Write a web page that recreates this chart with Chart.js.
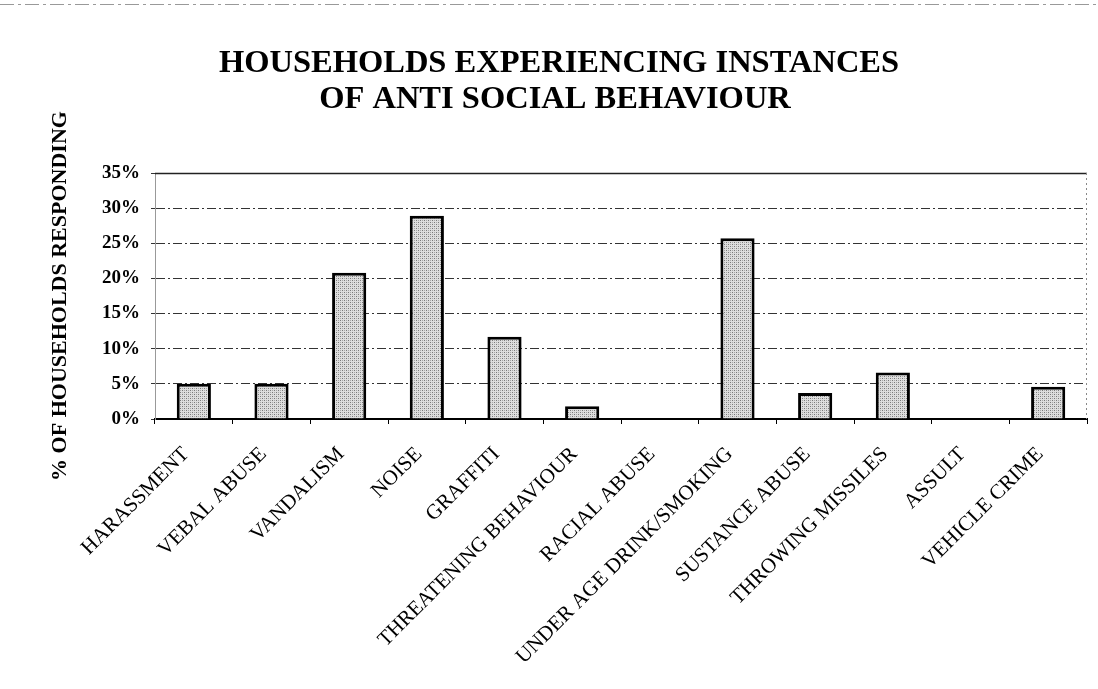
<!DOCTYPE html>
<html><head><meta charset="utf-8">
<script src="https://cdn.jsdelivr.net/npm/chart.js@4"></script>
<style>html,body{margin:0;padding:0;background:#fff}#wrap{width:1098px;height:689px;position:relative}</style>
</head><body><div id="wrap"><canvas id="c" width="1098" height="689"></canvas></div>
<script>
const categories = ['HARASSMENT','VEBAL ABUSE','VANDALISM','NOISE','GRAFFITI','THREATENING BEHAVIOUR','RACIAL ABUSE','UNDER AGE DRINK/SMOKING','SUSTANCE ABUSE','THROWING MISSILES','ASSULT','VEHICLE CRIME'];
const values = [5.0, 5.0, 20.8, 28.9, 11.7, 1.8, 0, 25.7, 3.7, 6.6, 0, 4.6];
const yTickValues = [0, 5, 10, 15, 20, 25, 30, 35];
const titleLines = ['HOUSEHOLDS EXPERIENCING INSTANCES', 'OF ANTI SOCIAL BEHAVIOUR'];
const yTitle = '% OF HOUSEHOLDS RESPONDING';

const SERIF = "'Liberation Serif','Times New Roman',serif";

function makePattern() {
  const p = document.createElement('canvas'); p.width = 4; p.height = 4;
  const g = p.getContext('2d');
  g.fillStyle = '#dedede'; g.fillRect(0, 0, 4, 4);
  g.fillStyle = '#7a7a7a'; g.fillRect(0, 0, 1, 1); g.fillRect(2, 2, 1, 1);
  g.fillStyle = '#a8a8a8'; g.fillRect(2, 0, 1, 1); g.fillRect(0, 2, 1, 1);
  return g.createPattern(p, 'repeat');
}

const titlePlugin = {
  id: 'docTitle',
  afterDraw(chart) {
    const ctx = chart.ctx;
    ctx.save();
    ctx.fillStyle = '#000';
    ctx.font = "bold 32.5px " + SERIF;
    ctx.textAlign = 'center';
    ctx.textBaseline = 'alphabetic';
    ctx.fillText(titleLines[0], 559, 72);
    ctx.fillText(titleLines[1], 555, 108);
    ctx.strokeStyle = '#999';
    ctx.lineWidth = 1;
    ctx.setLineDash([14, 4, 3, 4]);
    ctx.beginPath(); ctx.moveTo(0, 4.5); ctx.lineTo(1098, 4.5); ctx.stroke();
    ctx.restore();
  }
};

const framePlugin = {
  id: 'frame',
  beforeDatasetsDraw(chart) {
    const {ctx, chartArea: a} = chart;
    ctx.save();
    ctx.strokeStyle = '#222';
    ctx.lineWidth = 1.5;
    ctx.beginPath(); ctx.moveTo(a.left, a.top + 0.5); ctx.lineTo(a.right, a.top + 0.5); ctx.stroke();
    ctx.strokeStyle = '#888';
    ctx.lineWidth = 1;
    ctx.setLineDash([2, 3]);
    ctx.beginPath(); ctx.moveTo(a.right - 0.5, a.top); ctx.lineTo(a.right - 0.5, a.bottom); ctx.stroke();
    ctx.restore();
  }
};

new Chart(document.getElementById('c'), {
  type: 'bar',
  data: {
    labels: categories,
    datasets: [{
      data: values,
      backgroundColor: makePattern(),
      borderColor: '#000',
      borderWidth: 3,
      borderSkipped: 'start',
      barPercentage: 0.44,
      categoryPercentage: 1.0
    }]
  },
  options: {
    responsive: false,
    devicePixelRatio: 1,
    animation: false,
    layout: { padding: { top: 173, right: 11, left: 0, bottom: 0 } },
    plugins: { legend: { display: false }, tooltip: { enabled: false }, title: { display: false } },
    scales: {
      x: {
        ticks: {
          color: '#000', autoSkip: false, maxRotation: 45, minRotation: 45,
          font: { family: SERIF, size: 21, weight: 'normal' }, padding: 18, labelOffset: -8
        },
        grid: { display: true, drawOnChartArea: false, drawTicks: true, tickLength: 5, color: '#000', offset: true },
        border: { display: true, color: '#000', width: 2 },
        afterFit(s) { s.height = 270; }
      },
      y: {
        min: 0, max: 35,
        afterBuildTicks(s) { s.ticks = yTickValues.map(v => ({ value: v })); },
        ticks: {
          color: '#000', padding: 11,
          font: { family: SERIF, size: 19, weight: 'bold' },
          callback: v => v + '%'
        },
        grid: { color: '#333', lineWidth: 1, drawTicks: true, tickLength: 4 },
        border: { display: true, color: '#999', width: 1, dash: [9, 3, 2, 3] },
        title: {
          display: true, text: yTitle, color: '#000',
          font: { family: SERIF, size: 22, weight: 'bold' },
          padding: { top: 47, bottom: 0 }
        },
        afterFit(s) { s.width = 155; }
      }
    }
  },
  plugins: [framePlugin, titlePlugin]
});
</script></body></html>
